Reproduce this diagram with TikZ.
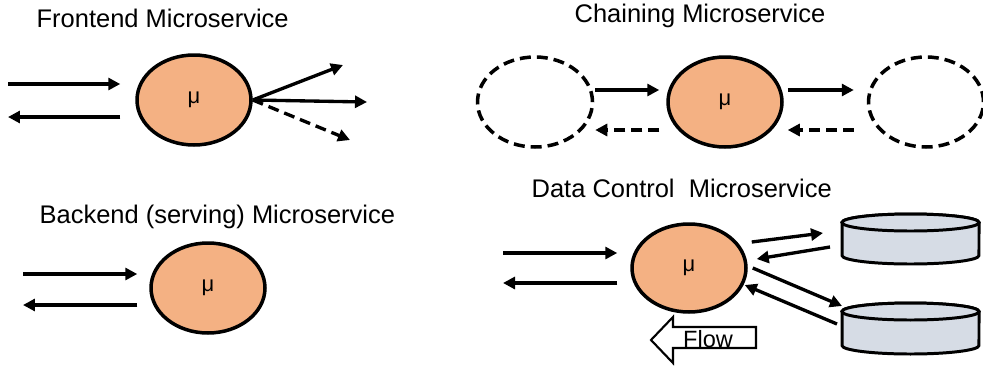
\documentclass[tikz,border=0pt]{standalone}
\usepackage{fontspec}
\setmainfont{Liberation Sans}
\usetikzlibrary{arrows.meta,shapes.geometric,calc}
\definecolor{muorange}{HTML}{F4B183}
\definecolor{diskgray}{HTML}{D6DCE5}

\begin{document}
\begin{tikzpicture}[x=0.02cm, y=-0.02cm, line width=1.9pt,
	arrows={-Triangle[length=0.24cm, width=0.24cm]},
	svc/.style={ellipse, draw, fill=muorange, line width=2pt, minimum width=2.28cm, minimum height=1.8cm, inner sep=0pt, font=\fontsize{12.5}{14}\selectfont},
	ghost/.style={ellipse, draw, dashline, line width=2pt, minimum width=2.3cm, minimum height=1.8cm, inner sep=0pt},
	disk/.style={draw, fill=diskgray, line width=1.7pt},
	dashline/.style={dash pattern=on 0.22cm off 0.12cm},
	title/.style={anchor=west, inner sep=0pt, font=\fontsize{14.5}{17}\selectfont}]
	\useasboundingbox (0,0) rectangle (983,369);

	% frontend
	\node[title] (feT) at (35,18) {Frontend Microservice};
	\node[svc] (fe) at (194,100) {μ};
	\coordinate (feIn) at (8,84);
	\coordinate (feOut) at (8,117);
	\coordinate (feA) at (343,65);
	\coordinate (feB) at (367,102);
	\coordinate (feC) at (350,140);
	\draw (feIn) -- ($(fe.west)+(-15,-16)$);
	\draw ($(fe.west)+(-15,17)$) -- (feOut);
	\draw (fe.east) -- (feA);
	\draw (fe.east) -- (feB);
	\draw[dashline] (fe.east) -- (feC);

	% chaining
	\node[title] (chT) at (573,16) {Chaining Microservice};
	\node[ghost] (prev) at (535,102) {};
	\node[svc] (ch) at (725,102) {μ};
	\node[ghost] (next) at (926,102) {};
	\draw ($(prev.east)+(1,-12)$) -- ($(ch.west)+(-7,-12)$);
	\draw[dashline] ($(ch.west)+(-7,28)$) -- ($(prev.east)+(1,28)$);
	\draw ($(ch.east)+(4,-12)$) -- ($(next.west)+(-13,-12)$);
	\draw[dashline] ($(next.west)+(-13,28)$) -- ($(ch.east)+(4,28)$);

	% backend
	\node[title] (beT) at (38,217) {Backend (serving) Microservice};
	\node[svc] (be) at (208,288) {μ};
	\coordinate (beIn) at (23,274);
	\coordinate (beOut) at (23,305);
	\draw (beIn) -- ($(be.west)+(-12,-14)$);
	\draw ($(be.west)+(-12,17)$) -- (beOut);

	% data control
	\node[title] (dcT) at (530,188) {Data Control\ \ Microservice};
	\node[svc, minimum height=1.76cm] (dc) at (689,268) {μ};
	\coordinate (db1) at (842,239);
	\coordinate (db2) at (842,328);
	\draw[-, disk] (842,222.5) -- (842,255.5) arc[start angle=180, end angle=360, x radius=1.37cm, y radius=0.17cm]
		-- (979,222.5) arc[start angle=0, end angle=180, x radius=1.37cm, y radius=0.17cm] -- cycle;
	\draw[-, disk] (910.5,222.5) ellipse[x radius=1.37cm, y radius=0.17cm];
	\draw[-, disk] (842,311.5) -- (842,345.5) arc[start angle=180, end angle=360, x radius=1.37cm, y radius=0.17cm]
		-- (979,311.5) arc[start angle=0, end angle=180, x radius=1.37cm, y radius=0.17cm] -- cycle;
	\draw[-, disk] (910.5,311.5) ellipse[x radius=1.37cm, y radius=0.17cm];
	\coordinate (dcIn) at (503,253);
	\coordinate (dcOut) at (503,283);
	\draw (dcIn) -- ($(dc.west)+(-13,-15)$);
	\draw ($(dc.west)+(-13,15)$) -- (dcOut);
	\draw ($(dc.east)+(4,-26)$) -- ($(db1)+(-19,-6)$);
	\draw ($(db1)+(-12,8)$) -- ($(dc.east)+(9,-9)$);
	\draw ($(dc.east)+(5,0)$) -- ($(db2)+(0,-22)$);
	\draw ($(db2)+(-5,-4)$) -- ($(dc.east)+(-3,17)$);

	% flow sign
	\draw[-, line width=1.2pt, fill=white] (673,327) -- (756,327) -- (756,348) -- (673,348)
		-- (673,363) -- (651,340) -- (673,317) -- cycle;
	\node[font=\fontsize{13.4}{16}\selectfont, inner sep=0pt] (flow) at (708,339) {Flow};
\end{tikzpicture}
\end{document}
